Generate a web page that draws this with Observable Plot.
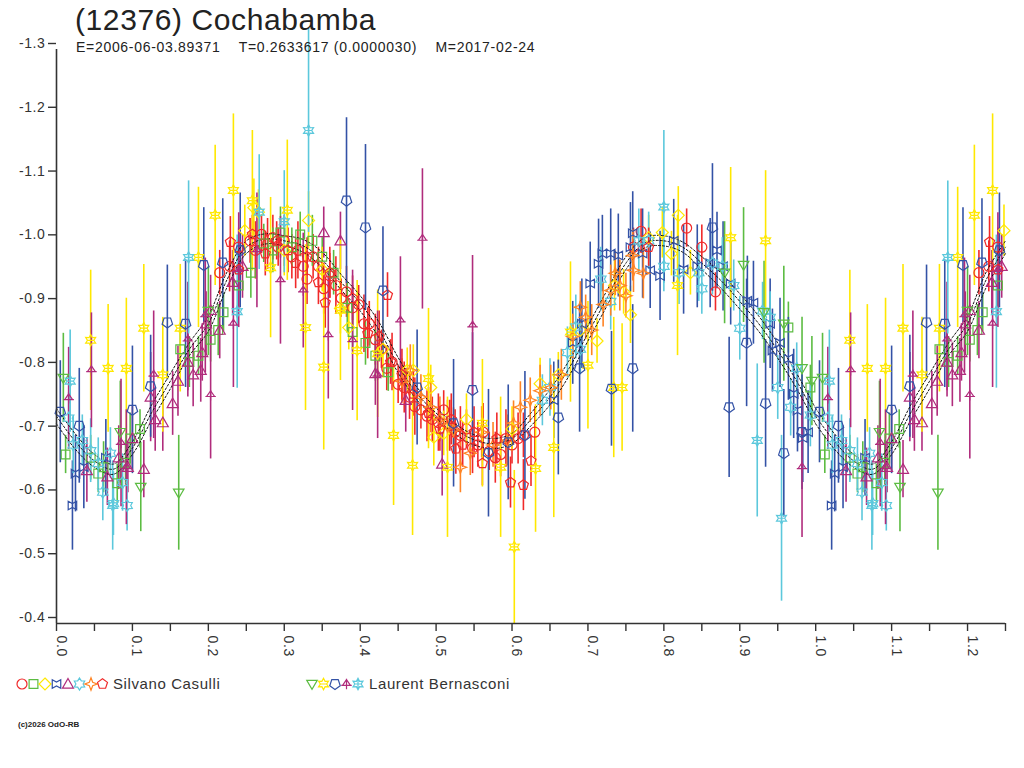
<!DOCTYPE html>
<html><head><meta charset="utf-8">
<script src="https://cdn.jsdelivr.net/npm/d3@7"></script>
<script src="https://cdn.jsdelivr.net/npm/@observablehq/plot@0.6"></script>
<style>
body{margin:0;background:#fff;font-family:"Liberation Sans",Arial,sans-serif;}
#wrap{position:relative;width:1024px;height:768px;overflow:hidden;background:#fff;}
#title{position:absolute;left:75px;top:3px;font-size:30px;color:#222;white-space:pre;letter-spacing:0.6px;}
#sub{position:absolute;left:76px;top:39px;font-size:14px;color:#222;white-space:pre;letter-spacing:0.7px;}
#chart{position:absolute;left:0;top:0;}
#legend{position:absolute;left:0;top:668px;}
#copy{position:absolute;left:18px;top:720px;font-size:8px;font-weight:bold;color:#222;}
</style></head>
<body><div id="wrap">
<div id="chart"></div>
<div id="title">(12376) Cochabamba</div>
<div id="sub">E=2006-06-03.89371    T=0.2633617 (0.0000030)    M=2017-02-24</div>
<div id="legend"></div>
<div id="copy">(c)2026 OdO-RB</div>
</div>
<script>
// ---------- data: [phase, magnitude, error] ----------
const casCircle = [[0.215,-0.95,.035],[0.228,-0.96,.04],[0.24,-0.99,.03],[0.255,-1.0,.035],[0.262,-0.985,.045],[0.27,-1.01,.03],[0.278,-0.995,.04],[0.285,-1.005,.035],[0.292,-0.99,.03],[0.30,-1.0,.04],[0.31,-0.975,.035],[0.318,-0.985,.045],[0.325,-0.96,.03],[0.33,-0.94,.04],[0.338,-0.975,.035],[0.345,-0.96,.03],[0.352,-0.925,.04],[0.36,-0.945,.035],[0.368,-0.93,.045],[0.375,-0.91,.03],[0.382,-0.92,.04],[0.39,-0.895,.035],[0.398,-0.90,.03],[0.405,-0.87,.045],[0.412,-0.87,.035],[0.42,-0.845,.04],[0.428,-0.83,.03],[0.435,-0.80,.035],[0.442,-0.81,.045],[0.45,-0.775,.03],[0.458,-0.77,.04],[0.465,-0.755,.035],[0.472,-0.74,.045],[0.48,-0.735,.03],[0.488,-0.725,.04],[0.495,-0.72,.035],[0.503,-0.715,.045],[0.51,-0.735,.03],[0.518,-0.71,.04],[0.525,-0.70,.035],[0.532,-0.695,.045],[0.54,-0.705,.03],[0.548,-0.675,.04],[0.555,-0.68,.035],[0.562,-0.70,.045],[0.57,-0.67,.03],[0.578,-0.66,.04],[0.585,-0.665,.035],[0.592,-0.69,.045],[0.60,-0.68,.03],[0.608,-0.69,.04],[0.615,-0.695,.035],[0.63,-0.70,.04],[0.76,-0.99,.03],[0.77,-1.015,.035],[0.83,-1.02,.03],[0.85,-0.99,.035],[0.868,-0.92,.03]];
const casSquare = [[0.012,-0.665,.03],[0.045,-0.66,.035],[0.055,-0.635,.03],[0.062,-0.645,.04],[0.08,-0.62,.03],[0.091,-0.652,.035],[0.097,-0.69,.04],[0.11,-0.705,.03],[0.163,-0.83,.035],[0.175,-0.81,.04],[0.187,-0.82,.03],[0.203,-0.845,.035],[0.213,-0.86,.04],[0.22,-0.888,.03],[0.24,-0.93,.035],[0.256,-0.95,.04],[0.273,-0.996,.03],[0.285,-0.985,.035],[0.295,-1.013,.04],[0.31,-0.99,.03],[0.321,-1.01,.035],[0.337,-1.0,.04],[0.35,-0.975,.03],[0.365,-0.95,.035],[0.383,-0.895,.04],[0.39,-0.857,.03],[0.407,-0.84,.035],[0.42,-0.82,.04],[0.437,-0.794,.03],[0.964,-0.864,.04],[0.993,-0.77,.035]];
const casDiamond = [[0.248,-1.016,.04],[0.26,-1.052,.045],[0.266,-1.045,.035],[0.30,-0.985,.04],[0.332,-1.032,.045],[0.35,-0.955,.035],[0.374,-0.894,.04],[0.385,-0.864,.035],[0.43,-0.83,.045],[0.462,-0.797,.035],[0.47,-0.797,.04],[0.493,-0.77,.035],[0.497,-0.692,.045],[0.51,-0.698,.035],[0.54,-0.72,.04],[0.60,-0.705,.035],[0.637,-0.776,.04],[0.661,-0.79,.035],[0.69,-0.86,.045],[0.712,-0.843,.035],[0.735,-0.93,.04],[0.747,-0.92,.035],[0.756,-0.884,.045],[0.78,-1.005,.035],[0.798,-1.013,.04],[0.81,-0.98,.035],[0.819,-1.04,.045],[0.835,-0.95,.035]];
const casBowtie = [[0.021,-0.585,.07],[0.025,-0.635,.06],[0.036,-0.645,.065],[0.065,-0.66,.06],[0.655,-0.75,.06],[0.68,-0.84,.065],[0.692,-0.87,.07],[0.703,-0.933,.065],[0.714,-0.964,.07],[0.719,-0.98,.06],[0.73,-0.98,.07],[0.74,-0.977,.065],[0.756,-0.99,.07],[0.759,-1.012,.065],[0.772,-0.98,.07],[0.782,-0.954,.06],[0.795,-0.945,.07],[0.813,-1.0,.065],[0.826,-0.955,.07],[0.844,-0.96,.065],[0.861,-0.965,.07],[0.87,-0.985,.06],[0.878,-0.96,.07],[0.888,-0.933,.065],[0.91,-0.906,.07],[0.918,-0.903,.065],[0.94,-0.87,.07],[0.943,-0.828,.065],[0.953,-0.84,.07],[0.964,-0.815,.065],[0.971,-0.76,.07],[0.976,-0.734,.065],[0.983,-0.691,.07],[0.99,-0.70,.065]];
const casTriangle = [[0.04,-0.64,.05],[0.067,-0.63,.045],[0.082,-0.66,.05],[0.094,-0.645,.04],[0.10,-0.69,.05],[0.115,-0.642,.045],[0.124,-0.755,.07],[0.13,-0.72,.05],[0.14,-0.715,.045],[0.153,-0.745,.05],[0.16,-0.78,.055],[0.173,-0.81,.045],[0.18,-0.79,.05],[0.19,-0.797,.05],[0.192,-0.825,.045],[0.197,-0.87,.05],[0.203,-0.891,.055],[0.215,-0.86,.045],[0.232,-0.935,.05],[0.245,-0.96,.05],[0.352,-1.013,.04],[0.374,-1.0,.045],[0.42,-0.792,.05],[0.46,-0.75,.05],[0.508,-0.65,.05]];
const casStar = [[0.016,-0.722,.04],[0.022,-0.68,.045],[0.034,-0.687,.04],[0.045,-0.671,.05],[0.055,-0.651,.04],[0.061,-0.606,.045],[0.071,-0.667,.04],[0.075,-0.588,.05],[0.087,-0.621,.045],[0.093,-0.585,.04],[0.64,-0.75,.04],[0.65,-0.77,.045],[0.673,-0.825,.04],[0.684,-0.865,.05],[0.69,-0.83,.04],[0.717,-0.94,.05],[0.73,-0.905,.045],[0.767,-1.0,.05],[0.78,-1.0,.045],[0.80,-0.96,.04],[0.82,-0.95,.05],[0.846,-0.95,.045],[0.85,-0.925,.04],[0.864,-0.965,.05],[0.877,-0.96,.045],[0.892,-0.93,.04],[0.90,-0.863,.05],[0.93,-0.89,.045],[0.94,-0.88,.04],[0.95,-0.77,.05],[0.967,-0.739,.045],[0.975,-0.80,.04],[0.993,-0.727,.05]];
const casFourStar = [[0.455,-0.78,.035],[0.466,-0.797,.04],[0.48,-0.755,.035],[0.493,-0.739,.04],[0.505,-0.72,.035],[0.515,-0.71,.04],[0.523,-0.703,.035],[0.532,-0.645,.04],[0.545,-0.667,.035],[0.56,-0.70,.04],[0.575,-0.68,.035],[0.594,-0.687,.04],[0.602,-0.714,.035],[0.611,-0.739,.04],[0.624,-0.75,.035],[0.637,-0.765,.04],[0.651,-0.77,.035],[0.665,-0.79,.04],[0.68,-0.85,.035],[0.69,-0.896,.04],[0.697,-0.88,.035],[0.705,-0.86,.04],[0.72,-0.90,.035],[0.73,-0.922,.04],[0.736,-0.949,.035],[0.742,-0.93,.04],[0.75,-0.914,.035],[0.759,-0.977,.04],[0.76,-0.954,.035],[0.773,-0.949,.04]];
const casPentagon = [[0.229,-0.998,.04],[0.24,-0.955,.035],[0.258,-1.01,.03],[0.275,-0.98,.035],[0.29,-1.0,.03],[0.305,-0.985,.035],[0.315,-0.965,.04],[0.33,-0.975,.03],[0.345,-0.935,.035],[0.354,-0.903,.04],[0.36,-0.95,.04],[0.39,-0.91,.035],[0.41,-0.855,.04],[0.425,-0.85,.04],[0.436,-0.915,.035],[0.44,-0.81,.035],[0.455,-0.79,.04],[0.47,-0.76,.035],[0.49,-0.73,.04],[0.505,-0.705,.035],[0.52,-0.72,.04],[0.526,-0.674,.04],[0.535,-0.68,.035],[0.55,-0.70,.04],[0.561,-0.651,.035],[0.58,-0.69,.04],[0.598,-0.621,.04],[0.615,-0.617,.04],[0.625,-0.655,.04],[0.78,-0.99,.03]];
const berDownTri = [[0.009,-0.785,.07],[0.084,-0.70,.08],[0.111,-0.614,.07],[0.161,-0.605,.09],[0.20,-0.89,.07],[0.88,-0.95,.08],[0.905,-0.962,.09],[0.932,-0.888,.08],[0.958,-0.87,.09],[0.982,-0.80,.08],[0.995,-0.78,.07]];
const berStar = [[0.045,-0.844,.11],[0.068,-0.80,.1],[0.092,-0.80,.11],[0.115,-0.863,.1],[0.14,-0.79,.09],[0.163,-0.863,.1],[0.187,-0.974,.11],[0.209,-1.04,.11],[0.233,-1.079,.12],[0.258,-1.063,.11],[0.282,-0.958,.11],[0.304,-1.048,.11],[0.328,-0.864,.13],[0.352,-0.802,.13],[0.374,-0.891,.11],[0.396,-0.828,.11],[0.423,-0.823,.1],[0.444,-0.695,.11],[0.469,-0.648,.11],[0.49,-0.784,.11],[0.515,-0.645,.11],[0.561,-0.714,.1],[0.585,-0.645,.11],[0.603,-0.52,.12],[0.631,-0.643,.1],[0.655,-0.676,.11],[0.677,-0.857,.11],[0.70,-0.805,.1],[0.734,-0.77,.11],[0.745,-0.77,.1],[0.818,-0.93,.11],[0.888,-1.005,.11],[0.934,-1.0,.11]];
const berPentagon = [[0.005,-0.732,.08],[0.03,-0.71,.09],[0.10,-0.735,.1],[0.124,-0.772,.08],[0.146,-0.872,.09],[0.17,-0.87,.1],[0.194,-0.962,.09],[0.219,-0.966,.1],[0.242,-0.985,.09],[0.382,-1.063,.13],[0.407,-1.021,.13],[0.43,-0.922,.1],[0.475,-0.77,.09],[0.523,-0.714,.1],[0.548,-0.766,.09],[0.569,-0.667,.1],[0.595,-0.684,.09],[0.617,-0.695,.1],[0.661,-0.723,.09],[0.689,-0.80,.1],[0.731,-0.768,.09],[0.759,-0.80,.1],[0.864,-1.021,.1],[0.886,-0.739,.11],[0.909,-0.84,.1],[0.934,-0.745,.1],[0.958,-0.667,.1],[0.982,-0.70,.09]];
const berUfo = [[0.016,-0.753,.08],[0.046,-0.797,.09],[0.085,-0.683,.1],[0.092,-0.645,.09],[0.128,-0.79,.1],[0.173,-0.845,.09],[0.196,-0.883,.09],[0.203,-0.758,.1],[0.233,-0.87,.1],[0.24,-0.954,.09],[0.264,-0.985,.09],[0.295,-0.938,.1],[0.325,-0.922,.09],[0.358,-0.852,.1],[0.39,-0.844,.11],[0.423,-0.79,.1],[0.453,-0.875,.1],[0.482,-1.003,.11],[0.548,-0.867,.11],[0.982,-0.645,.11]];
const berAsterisk = [[0.018,-0.78,.08],[0.074,-0.585,.07],[0.174,-0.974,.12],[0.238,-0.889,.12],[0.267,-1.045,.09],[0.30,-1.03,.08],[0.332,-1.173,.16],[0.80,-1.053,.12],[0.923,-0.687,.12],[0.955,-0.565,.13]];

// fitted light curve
const fitPhase = [0,0.025,0.05,0.075,0.1,0.125,0.15,0.175,0.2,0.225,0.25,0.275,0.3,0.325,0.35,0.375,0.4,0.425,0.45,0.475,0.5,0.525,0.55,0.575,0.6,0.625,0.65,0.675,0.7,0.725,0.75,0.775,0.8,0.825,0.85,0.875,0.9,0.925,0.95,0.975,1.0];
const fitMag = [-0.725,-0.685,-0.655,-0.642,-0.675,-0.73,-0.78,-0.83,-0.87,-0.94,-0.99,-1.003,-1.0,-0.992,-0.97,-0.935,-0.902,-0.86,-0.805,-0.76,-0.73,-0.705,-0.688,-0.682,-0.69,-0.72,-0.755,-0.80,-0.855,-0.91,-0.965,-0.997,-1.0,-0.99,-0.965,-0.938,-0.905,-0.87,-0.828,-0.78,-0.725];
const fitSpread = [0.012,0.012,0.01,0.008,0.01,0.012,0.012,0.01,0.012,0.012,0.01,0.008,0.008,0.01,0.012,0.012,0.012,0.012,0.012,0.01,0.008,0.008,0.008,0.008,0.008,0.01,0.012,0.012,0.012,0.012,0.01,0.008,0.008,0.008,0.01,0.012,0.012,0.012,0.012,0.012,0.012];

const yTickVals = [-1.3,-1.2,-1.1,-1.0,-0.9,-0.8,-0.7,-0.6,-0.5,-0.4];
const yTickLabels = ["-1.3","-1.2","-1.1","-1.0","-0.9","-0.8","-0.7","-0.6","-0.5","-0.4"];
const xTickVals = [0,0.05,0.1,0.15,0.2,0.25,0.3,0.35,0.4,0.45,0.5,0.55,0.6,0.65,0.7,0.75,0.8,0.85,0.9,0.95,1.0,1.05,1.1,1.15,1.2,1.25];
const xLabelVals = [0,0.1,0.2,0.3,0.4,0.5,0.6,0.7,0.8,0.9,1.0,1.1,1.2];
const xLabelText = ["0.0","0.1","0.2","0.3","0.4","0.5","0.6","0.7","0.8","0.9","1.0","1.1","1.2"];

const observers = ["Silvano Casulli","Laurent Bernasconi"];
const colors = {red:"#f02a2a",green:"#5cbc42",yellow:"#ffe800",blue:"#3352a6",purple:"#b02c7c",cyan:"#5cc8dc",orange:"#ff8424"};

// ---------- custom symbols ----------
const R = s => Math.sqrt(s / Math.PI);
function poly(c, pts){ pts.forEach((p,i)=> i ? c.lineTo(p[0],p[1]) : c.moveTo(p[0],p[1])); c.closePath(); }
function starPts(n, ro, ri, a0){ const p=[]; for(let i=0;i<2*n;i++){const a=a0+i*Math.PI/n; const rr=i%2?ri:ro; p.push([rr*Math.cos(a), rr*Math.sin(a)]);} return p; }
function ngon(n, r, a0){ const p=[]; for(let i=0;i<n;i++){const a=a0+i*2*Math.PI/n; p.push([r*Math.cos(a), r*Math.sin(a)]);} return p; }
const sym = {
  circle:{draw(c,s){const r=R(s); c.moveTo(r,0); c.arc(0,0,r,0,2*Math.PI);}},
  square:{draw(c,s){const r=R(s)*0.88; poly(c,[[-r,-r],[r,-r],[r,r],[-r,r]]);}},
  diamond:{draw(c,s){const r=R(s)*1.2; poly(c,[[0,-r],[r,0],[0,r],[-r,0]]);}},
  bowtie:{draw(c,s){const r=R(s)*0.85; poly(c,[[-r,-r],[0,-0.45*r],[r,-r],[r,r],[0,0.45*r],[-r,r]]);}},
  triangle:{draw(c,s){const r=R(s)*1.1; poly(c,[[0,-r],[r,0.75*r],[-r,0.75*r]]);}},
  star:{draw(c,s){const r=R(s)*1.2; poly(c,starPts(6,r,0.6*r,-Math.PI/2));}},
  fourStar:{draw(c,s){const r=R(s)*1.25; poly(c,starPts(4,r,0.38*r,-Math.PI/2));}},
  pentagon:{draw(c,s){const r=R(s)*1.05; poly(c,ngon(5,r,-Math.PI/2));}},
  downTri:{draw(c,s){const r=R(s)*1.05; poly(c,[[-r,-0.7*r],[r,-0.7*r],[0,r]]);}},
  hexStar:{draw(c,s){const r=R(s)*1.15; poly(c,starPts(6,r,0.55*r,-Math.PI/2)); c.moveTo(-0.55*r,0); c.lineTo(0.55*r,0);}},
  pentDown:{draw(c,s){const r=R(s)*1.1; poly(c,ngon(5,r,Math.PI/2));}},
  ufo:{draw(c,s){const r=R(s)*1.05; poly(c,[[0,-0.85*r],[0.75*r,0.25*r],[-0.75*r,0.25*r]]); c.moveTo(-r,0.25*r); c.lineTo(r,0.25*r); c.moveTo(0,-r); c.lineTo(0,r);}},
  asterisk:{draw(c,s){const r=R(s)*1.15; poly(c,starPts(6,r,0.55*r,-Math.PI/2)); c.moveTo(0,-r); c.lineTo(0,r); c.moveTo(-0.55*r,0); c.lineTo(0.55*r,0);}}
};

const series = [
  {data:casCircle, color:colors.red, symbol:sym.circle, obs:0},
  {data:casSquare, color:colors.green, symbol:sym.square, obs:0},
  {data:casDiamond, color:colors.yellow, symbol:sym.diamond, obs:0},
  {data:casBowtie, color:colors.blue, symbol:sym.bowtie, obs:0},
  {data:casTriangle, color:colors.purple, symbol:sym.triangle, obs:0},
  {data:casStar, color:colors.cyan, symbol:sym.star, obs:0},
  {data:casFourStar, color:colors.orange, symbol:sym.fourStar, obs:0},
  {data:casPentagon, color:colors.red, symbol:sym.pentagon, obs:0},
  {data:berDownTri, color:colors.green, symbol:sym.downTri, obs:1},
  {data:berStar, color:colors.yellow, symbol:sym.hexStar, obs:1},
  {data:berPentagon, color:colors.blue, symbol:sym.pentDown, obs:1},
  {data:berUfo, color:colors.purple, symbol:sym.ufo, obs:1},
  {data:berAsterisk, color:colors.cyan, symbol:sym.asterisk, obs:1}
];

// phase-folded display: points with phase <= 0.25 are repeated one cycle later
function rowsOf(data){
  const out=[];
  for(const [ph,mag,err] of data){
    out.push({ph,mag,err});
    if(ph<=0.25) out.push({ph:ph+1,mag,err});
  }
  return out;
}
const fitRows=[];
["lo","mid","hi"].forEach((k,j)=>{
  fitPhase.forEach((p,i)=>{
    const m = fitMag[i] + (j-1)*fitSpread[i];
    fitRows.push({ph:p,mag:m,z:k+"a"});
    if(p<=0.25) fitRows.push({ph:p+1,mag:m,z:k+"b"});
  });
});

const marks=[];
for(const s of series){
  const rows=rowsOf(s.data);
  marks.push(Plot.ruleX(rows,{x:"ph",y1:d=>d.mag-d.err,y2:d=>d.mag+d.err,stroke:s.color,strokeWidth:1.6}));
}
marks.push(Plot.line(fitRows,{x:"ph",y:"mag",z:"z",stroke:"#111",strokeWidth:1,strokeDasharray:"2,2",curve:"catmull-rom"}));
for(const s of series){
  const rows=rowsOf(s.data);
  marks.push(Plot.dot(rows,{x:"ph",y:"mag",symbol:s.symbol,r:5,stroke:s.color,fill:"none",strokeWidth:1.2}));
}
marks.push(
  Plot.ruleY([-0.4],{stroke:"#333",strokeWidth:1.6}),
  Plot.ruleX([0],{stroke:"#333",strokeWidth:1.6}),
  Plot.axisY({ticks:yTickVals,tickSize:8,tickPadding:3,label:null,tickFormat:(d)=>yTickLabels[yTickVals.indexOf(d)],dy:-6,fontSize:14,stroke:"#333",strokeWidth:1.4}),
  Plot.axisX({ticks:xTickVals,tickSize:8,label:null,tickFormat:()=>"",stroke:"#333",strokeWidth:1.4}),
  Plot.text(xLabelVals,{x:d=>d,text:(d,i)=>xLabelText[i],frameAnchor:"bottom",rotate:90,textAnchor:"start",lineAnchor:"bottom",dy:12,fontSize:14,fill:"#333"})
);

const chart = Plot.plot({
  width:1024, height:670,
  marginTop:49, marginBottom:47, marginLeft:56, marginRight:19,
  x:{domain:[0,1.25],label:null},
  y:{domain:[-0.4,-1.3],label:null},
  style:{fontFamily:"'Liberation Sans', Arial, sans-serif",fontSize:"14px",color:"#333",background:"transparent",overflow:"visible",letterSpacing:"0.6px"},
  marks
});
document.getElementById("chart").appendChild(chart);

// ---------- legend ----------
const legendGroups = [{x0:22,tx:113,obs:0},{x0:312,tx:369,obs:1}];
const lsvg = d3.select("#legend").append("svg").attr("width",1024).attr("height",34)
  .style("font-family","'Liberation Sans', Arial, sans-serif");
legendGroups.forEach(g=>{
  const ss = series.filter(s=>s.obs===g.obs);
  ss.forEach((s,i)=>{
    const p=d3.path(); s.symbol.draw(p, 25*Math.PI);
    lsvg.append("path").attr("d",p.toString()).attr("transform",`translate(${g.x0+i*11.5},16)`)
      .attr("fill","none").attr("stroke",s.color).attr("stroke-width",1.2);
  });
  lsvg.append("text").attr("x",g.tx).attr("y",16).attr("dy","0.35em").attr("font-size",15)
    .attr("letter-spacing","0.6px").attr("fill","#333").text(observers[g.obs]);
});
</script>
</body></html>
